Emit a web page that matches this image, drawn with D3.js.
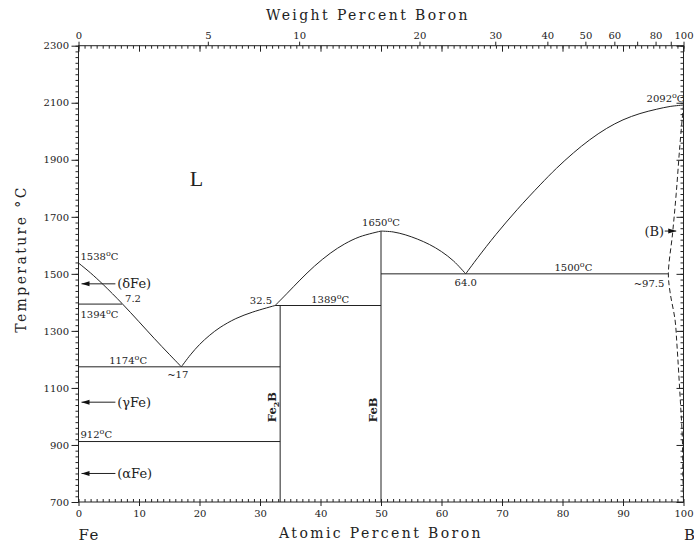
<!DOCTYPE html>
<html>
<head>
<meta charset="utf-8">
<style>
  body { margin: 0; background: #fff; }
  svg { display: block; }
  .tick text { font-family: "DejaVu Serif", serif; font-size: 10px; fill: #222; }
  .tick line { stroke: #222; }
</style>
</head>
<body>
<div class="container"></div>
<script src="https://d3js.org/d3.v7.min.js"></script>
<script>
// Fe-B phase diagram, x = atomic percent B, y = temperature (C)
var tempTicks = [700, 900, 1100, 1300, 1500, 1700, 1900, 2100, 2300];
var atTicks = [0, 10, 20, 30, 40, 50, 60, 70, 80, 90, 100];
var wtTicks = [0, 5, 10, 20, 30, 40, 50, 60, 70, 80, 90, 100];
var wtLabels = [0, 5, 10, 20, 30, 40, 50, 60, 80, 100];

var liquidusFe = [[0, 1538], [2, 1503], [4.1, 1462], [7.2, 1396], [10, 1332], [12.5, 1274], [15, 1218], [17, 1174]];
var liquidusFe2B = [[17, 1174], [18.5, 1216], [20, 1252], [21.7, 1285], [23.4, 1312], [26, 1343], [28.8, 1366], [32.5, 1389]];
var liquidusFeBLeft = [[32.5, 1389], [34.5, 1432], [36.6, 1478], [39, 1527], [41.6, 1572], [44, 1605], [46.5, 1630], [50, 1650]];
var liquidusFeBRight = [[50, 1650], [52, 1647], [54, 1637], [56, 1622], [58, 1603], [60, 1578], [62, 1545], [64, 1500]];
var liquidusB = [[64, 1500], [66, 1557], [69, 1638], [72.5, 1725], [76.3, 1812], [79, 1870], [81.8, 1924], [84.5, 1970],
                 [87.3, 2010], [90, 2040], [92.8, 2062], [95.5, 2077], [97.8, 2087], [100, 2092]];
var solvusB = [[100, 2092], [99.4, 1950], [98.8, 1783], [98.2, 1643], [97.5, 1500], [97.8, 1433], [98.6, 1339],
               [98.9, 1257], [99.5, 1047], [99.8, 929], [99.9, 789], [100, 700]];

// isotherms: [x1, x2, T]
var isotherms = [[0, 7.2, 1394], [0, 33.33, 1174], [0, 33.33, 912], [32.5, 50, 1389], [50, 97.5, 1500]];
// compounds: [x, Tbottom, Ttop, name, sub]
var compounds = [[33.33, 700, 1389, 'Fe', '2'], [50, 700, 1650, 'Fe', '']];

// [label, T]
var fePhases = [['(\u03b4Fe)', 1465], ['(\u03b3Fe)', 1050], ['(\u03b1Fe)', 800]];

// labels: [text, x, T, dx, dy, anchor, degree]
var notes = [
  ['1538', 0, 1538, 2, -3, 'start', true],
  ['7.2', 7.2, 1394, 3, -2, 'start', false],
  ['1394', 0, 1394, 2, 14, 'start', true],
  ['1174', 8.2, 1174, 0, -3, 'middle', true],
  ['~17', 16.4, 1174, 0, 11, 'middle', false],
  ['912', 0, 912, 2, -4, 'start', true],
  ['32.5', 32.5, 1389, -3, -2, 'end', false],
  ['1389', 41.6, 1389, 0, -3, 'middle', true],
  ['1650', 50, 1650, 0, -5, 'middle', true],
  ['64.0', 64, 1500, 0, 12, 'middle', false],
  ['1500', 81.8, 1500, 0, -3, 'middle', true],
  ['~97.5', 97.5, 1500, -4, 13, 'end', false],
  ['2092', 100, 2092, 1, -3, 'end', true]
];

function wtToAt(w) {
  var b = w / 10.81, f = (100 - w) / 55.845;
  return 100 * b / (b + f);
}

var width = 694, height = 544;
var x = d3.scaleLinear().domain([0, 100]).range([78.5, 683.5]);
var y = d3.scaleLinear().domain([700, 2300]).range([502, 45.7]);

var svg = d3.select('.container').append('svg')
    .attr('width', width)
    .attr('height', height);

// axes
function clean(g) { g.select('.domain').remove(); }

svg.append('g').attr('transform', 'translate(' + x(0) + ',0)')
   .call(d3.axisLeft(y).tickValues(d3.range(700, 2301, 20)).tickSize(3).tickFormat('')).call(clean);
svg.append('g').attr('transform', 'translate(' + x(0) + ',0)')
   .call(d3.axisLeft(y).tickValues(tempTicks).tickSize(7).tickPadding(2.5).tickFormat(d3.format('d'))).call(clean);
svg.append('g').attr('transform', 'translate(' + x(100) + ',0)')
   .call(d3.axisLeft(y).tickValues(d3.range(700, 2301, 20)).tickSize(3).tickFormat('')).call(clean);
svg.append('g').attr('transform', 'translate(' + x(100) + ',0)')
   .call(d3.axisLeft(y).tickValues(tempTicks).tickSize(7).tickFormat('')).call(clean);

svg.append('g').attr('transform', 'translate(0,' + y(700) + ')')
   .call(d3.axisTop(x).tickValues(d3.range(0, 101, 1)).tickSize(3).tickFormat('')).call(clean);
svg.append('g').attr('transform', 'translate(0,' + y(700) + ')')
   .call(d3.axisBottom(x).tickValues(atTicks).tickSize(4).tickPadding(4).tickFormat(d3.format('d'))).call(clean);

svg.append('g').attr('transform', 'translate(0,' + y(2300) + ')')
   .call(d3.axisBottom(x).tickValues(d3.range(0, 101, 1)).tickSize(3).tickFormat('')).call(clean);
svg.append('g').attr('transform', 'translate(0,' + y(2300) + ')')
   .call(d3.axisBottom(x).tickValues(atTicks).tickSize(6).tickFormat('')).call(clean);
svg.append('g').attr('transform', 'translate(0,' + y(2300) + ')')
   .call(d3.axisTop(x)
     .tickValues(wtTicks.map(wtToAt))
     .tickSize(4).tickPadding(3)
     .tickFormat(function(d, i) { var w = wtTicks[i]; return wtLabels.indexOf(w) >= 0 ? w : ''; }))
   .call(clean);

// frame
svg.append('rect')
   .attr('x', x(0)).attr('y', y(2300))
   .attr('width', x(100) - x(0)).attr('height', y(700) - y(2300))
   .attr('fill', 'none').attr('stroke', '#222').attr('stroke-width', 1);

// phase boundaries
var smooth = d3.line().curve(d3.curveCatmullRom.alpha(0.5))
    .x(function(d) { return x(d[0]); })
    .y(function(d) { return y(d[1]); });

[liquidusFe, liquidusFe2B, liquidusFeBLeft, liquidusFeBRight, liquidusB].forEach(function(c) {
  svg.append('path').attr('d', smooth(c))
     .attr('fill', 'none').attr('stroke', '#222').attr('stroke-width', 1);
});

svg.append('path').attr('d', smooth(solvusB))
   .attr('fill', 'none').attr('stroke', '#222').attr('stroke-width', 1)
   .attr('stroke-dasharray', '5,3');

svg.selectAll('.iso').data(isotherms).enter().append('line')
   .attr('x1', function(d) { return x(d[0]); })
   .attr('x2', function(d) { return x(d[1]); })
   .attr('y1', function(d) { return y(d[2]); })
   .attr('y2', function(d) { return y(d[2]); })
   .attr('stroke', '#222');

svg.selectAll('.cmp').data(compounds).enter().append('line')
   .attr('x1', function(d) { return x(d[0]); })
   .attr('x2', function(d) { return x(d[0]); })
   .attr('y1', function(d) { return y(d[1]); })
   .attr('y2', function(d) { return y(d[2]); })
   .attr('stroke', '#222');

compounds.forEach(function(d) {
  var px = x(d[0]) - 4, py = y(980);
  var t = svg.append('text')
     .attr('transform', 'translate(' + px + ',' + py + ') rotate(-90)')
     .attr('font-family', 'DejaVu Serif, serif').attr('font-size', 11.5).attr('font-weight', 'bold')
     .attr('fill', '#222');
  t.append('tspan').text(d[3]);
  if (d[4]) {
    t.append('tspan').attr('dy', 3).attr('font-size', 8).text(d[4]);
    t.append('tspan').attr('dy', -3).text('B');
  } else {
    t.append('tspan').text('B');
  }
});

// text annotations
notes.forEach(function(d) {
  var t = svg.append('text')
     .attr('x', x(d[1]) + d[3]).attr('y', y(d[2]) + d[4])
     .attr('text-anchor', d[5])
     .attr('font-family', 'DejaVu Serif, serif').attr('font-size', 10)
     .attr('fill', '#222');
  t.append('tspan').text(d[0]);
  if (d[6]) {
    t.append('tspan').attr('dy', -4).attr('font-size', 8).text('o');
    t.append('tspan').attr('dy', 4).text('C');
  }
});

// arrows for terminal solid solutions
function arrowHead(tx, ty, dir) {
  svg.append('path')
     .attr('d', 'M' + tx + ',' + ty + 'l' + (-8 * dir) + ',-2.5v5z')
     .attr('fill', '#111');
}

fePhases.forEach(function(d) {
  var py = y(d[1]);
  svg.append('line').attr('x1', x(0.5)).attr('x2', x(6.1)).attr('y1', py).attr('y2', py).attr('stroke', '#222');
  arrowHead(x(0.5), py, -1);
  svg.append('text').attr('x', x(6.4)).attr('y', py + 4.5)
     .attr('font-family', 'DejaVu Serif, serif').attr('font-size', 13).attr('fill', '#222')
     .text(d[0]);
});

var by = y(1650);
svg.append('line').attr('x1', x(96.9)).attr('x2', x(98.8)).attr('y1', by).attr('y2', by).attr('stroke', '#222');
arrowHead(x(98.8), by, 1);
svg.append('text').attr('x', x(96.8)).attr('y', by + 4.5).attr('text-anchor', 'end')
   .attr('font-family', 'DejaVu Serif, serif').attr('font-size', 13).attr('fill', '#222')
   .text('(B)');

svg.append('text').attr('x', x(19.5)).attr('y', y(1808)).attr('text-anchor', 'middle')
   .attr('font-family', 'Liberation Serif, serif').attr('font-size', 22).attr('fill', '#222')
   .text('L');

// axis titles
var titleFont = 'DejaVu Serif, serif';
svg.append('text').attr('x', 368).attr('y', 20).attr('text-anchor', 'middle')
   .attr('font-family', titleFont).attr('font-size', 14).attr('letter-spacing', 2.4).attr('fill', '#222')
   .text('Weight Percent Boron');
svg.append('text').attr('x', x(50)).attr('y', 538).attr('text-anchor', 'middle')
   .attr('font-family', titleFont).attr('font-size', 14).attr('letter-spacing', 2.4).attr('fill', '#222')
   .text('Atomic Percent Boron');
svg.append('text').attr('transform', 'translate(26,259) rotate(-90)').attr('text-anchor', 'middle')
   .attr('font-family', titleFont).attr('font-size', 14).attr('letter-spacing', 2.4).attr('fill', '#222')
   .text('Temperature \u00b0C');
svg.append('text').attr('x', x(0)).attr('y', 540)
   .attr('font-family', titleFont).attr('font-size', 15).attr('letter-spacing', 1.5).attr('fill', '#222')
   .text('Fe');
svg.append('text').attr('x', 684).attr('y', 540)
   .attr('font-family', titleFont).attr('font-size', 15).attr('fill', '#222')
   .text('B');
</script>
</body>
</html>
